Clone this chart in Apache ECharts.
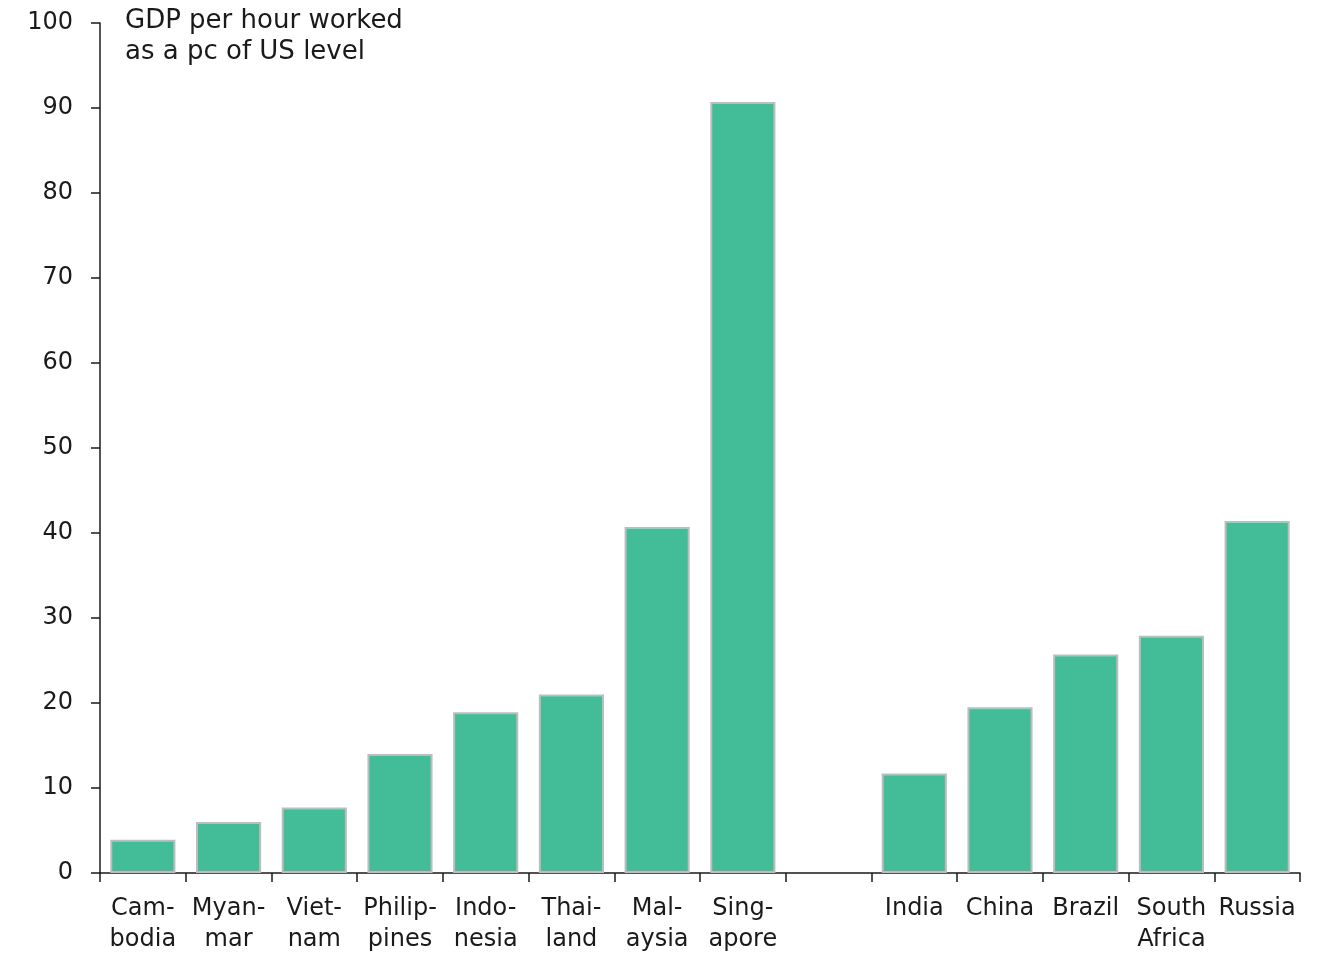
<!DOCTYPE html>
<html><head><meta charset="utf-8">
<script src="https://cdn.jsdelivr.net/npm/echarts@6/dist/echarts.min.js"></script>
<style>html,body{margin:0;padding:0;background:#fff}#c{width:1322px;height:955px}</style>
</head><body><div id="c"></div>
<script>
const categories = ["Cam-\nbodia","Myan-\nmar","Viet-\nnam","Philip-\npines","Indo-\nnesia","Thai-\nland","Mal-\naysia","Sing-\napore","","India","China","Brazil","South\nAfrica","Russia"];
const values = [3.9, 6.0, 7.7, 14.0, 18.9, 21.0, 40.7, 90.7, null, 11.7, 19.5, 25.7, 27.9, 41.4];
const yTicks = {min: 0, max: 100, interval: 10};
const axisTitle = "GDP per hour worked\nas a pc of US level";

const FONT = "DejaVu Sans";
const chart = echarts.init(document.getElementById('c'), null, {renderer: 'canvas'});
chart.setOption({
  animation: false,
  backgroundColor: '#fff',
  grid: {left: 100, right: 22, top: 23, bottom: 79, containLabel: false},
  graphic: [{type: 'text', left: 125, top: 6, style: {text: axisTitle, font: '26px "' + FONT + '"', fill: '#1a1a1a', lineHeight: 31}}],
  xAxis: {
    type: 'category', data: categories,
    axisLine: {lineStyle: {color: '#1a1a1a', width: 1.5}},
    axisTick: {show: true, length: 9, lineStyle: {color: '#1a1a1a', width: 1.5}},
    axisLabel: {interval: 0, color: '#1a1a1a', fontFamily: FONT, fontSize: 24, lineHeight: 31, margin: 20}
  },
  yAxis: {
    type: 'value', min: yTicks.min, max: yTicks.max, interval: yTicks.interval,
    axisLine: {show: true, lineStyle: {color: '#1a1a1a', width: 1.5}},
    axisTick: {show: true, length: 9, lineStyle: {color: '#1a1a1a', width: 1.5}},
    splitLine: {show: false},
    axisLabel: {color: '#1a1a1a', fontFamily: FONT, fontSize: 24, margin: 27}
  },
  series: [{
    type: 'bar', data: values, barWidth: '76%',
    itemStyle: {color: '#43BC98', borderColor: '#BDBDBD', borderWidth: 2}
  }]
});
</script></body></html>
